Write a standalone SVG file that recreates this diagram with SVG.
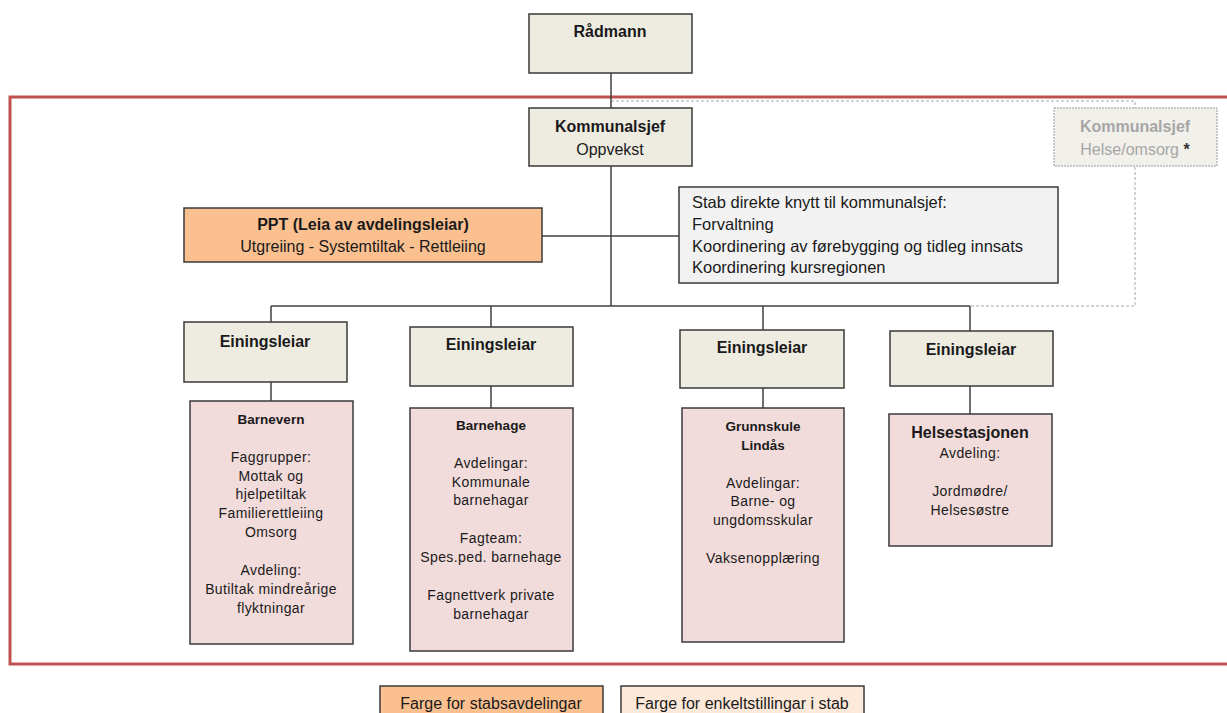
<svg xmlns="http://www.w3.org/2000/svg" width="1227" height="713" viewBox="0 0 1227 713">
<style>
text{font-family:"Liberation Sans",Arial,sans-serif;fill:#1a1a1a}
.b{font-weight:bold}
.c{text-anchor:middle}
.box{stroke:#3a3a3a;stroke-width:1.5}
.beige{fill:#eeece1}
.pink{fill:#f2dcdb}
.line{stroke:#404040;stroke-width:1.5;fill:none}
.dash{stroke:#a6a6a6;stroke-width:1;stroke-dasharray:3 2;fill:none}
.s16{font-size:16px}
.s15{font-size:15px}
.stab{font-size:16.5px}
.s14{font-size:14px;letter-spacing:0.4px}
.s13{font-size:13.5px}
</style>
<rect width="1227" height="713" fill="#ffffff"/>
<rect x="10" y="97" width="1230" height="567" fill="none" stroke="#c0504d" stroke-width="3"/>
<g id="connectors">
<polyline class="dash" points="611,101 1135,101 1135,306 970,306"/>
<line class="line" x1="611" y1="73" x2="611" y2="306" stroke="#595959"/>
<line class="line" x1="542" y1="236" x2="679" y2="236"/>
<line class="line" x1="271" y1="306" x2="970" y2="306"/>
<line class="line" x1="271" y1="306" x2="271" y2="322"/>
<line class="line" x1="491" y1="306" x2="491" y2="327"/>
<line class="line" x1="763" y1="306" x2="763" y2="330"/>
<line class="line" x1="970" y1="306" x2="970" y2="331"/>
<line class="line" x1="271" y1="382" x2="271" y2="401"/>
<line class="line" x1="491" y1="386" x2="491" y2="408"/>
<line class="line" x1="763" y1="388" x2="763" y2="408"/>
<line class="line" x1="970" y1="386" x2="970" y2="414"/>
</g>
<g id="radmann">
<rect class="box beige" x="529" y="14" width="163" height="59"/>
<text class="b c s16" x="610" y="37">Rådmann</text>
</g>
<g id="kommunalsjef-oppvekst">
<rect class="box beige" x="529" y="108" width="163" height="58"/>
<text class="b c s16" x="610" y="132">Kommunalsjef</text>
<text class="c s16" x="610" y="155">Oppvekst</text>
</g>
<g id="kommunalsjef-helse">
<rect x="1054" y="108" width="163" height="58" fill="#f1f0ea" stroke="#9a9a9a" stroke-width="1" stroke-dasharray="2 1"/>
<text class="b c s16" x="1135" y="132" style="fill:#a6a6a6">Kommunalsjef</text>
<text class="c s16" x="1135" y="155" style="fill:#a6a6a6">Helse/omsorg <tspan style="fill:#333333" font-weight="bold">*</tspan></text>
</g>
<g id="ppt">
<rect class="box" x="184" y="208" width="358" height="54" fill="#fac090"/>
<text class="b c s16" x="363" y="230">PPT (Leia av avdelingsleiar)</text>
<text class="c s16" x="363" y="252">Utgreiing - Systemtiltak - Rettleiing</text>
</g>
<g id="stab">
<rect class="box" x="679" y="187" width="379" height="96" fill="#f2f2f2"/>
<text class="stab" x="692" y="208">Stab direkte knytt til kommunalsjef:</text>
<text class="stab" x="692" y="230">Forvaltning</text>
<text class="stab" x="692" y="252">Koordinering av førebygging og tidleg innsats</text>
<text class="stab" x="692" y="273">Koordinering kursregionen</text>
</g>
<g id="einingsleiar-1">
<rect class="box beige" x="184" y="322" width="163" height="60"/>
<text class="b c s16" x="265" y="347">Einingsleiar</text>
</g>
<g id="einingsleiar-2">
<rect class="box beige" x="410" y="327" width="163" height="59"/>
<text class="b c s16" x="491" y="350">Einingsleiar</text>
</g>
<g id="einingsleiar-3">
<rect class="box beige" x="680" y="330" width="164" height="58"/>
<text class="b c s16" x="762" y="353">Einingsleiar</text>
</g>
<g id="einingsleiar-4">
<rect class="box beige" x="890" y="331" width="163" height="55"/>
<text class="b c s16" x="971" y="355">Einingsleiar</text>
</g>
<g id="barnevern">
<rect class="box pink" x="190" y="401" width="163" height="243"/>
<text class="b c s13" x="271" y="424">Barnevern</text>
<text class="c s14" x="271" y="462">Faggrupper:</text>
<text class="c s14" x="271" y="481">Mottak og</text>
<text class="c s14" x="271" y="499">hjelpetiltak</text>
<text class="c s14" x="271" y="518">Familierettleiing</text>
<text class="c s14" x="271" y="537">Omsorg</text>
<text class="c s14" x="271" y="575">Avdeling:</text>
<text class="c s14" x="271" y="594">Butiltak mindreårige</text>
<text class="c s14" x="271" y="613">flyktningar</text>
</g>
<g id="barnehage">
<rect class="box pink" x="410" y="408" width="163" height="243"/>
<text class="b c s13" x="491" y="430">Barnehage</text>
<text class="c s14" x="491" y="468">Avdelingar:</text>
<text class="c s14" x="491" y="487">Kommunale</text>
<text class="c s14" x="491" y="505">barnehagar</text>
<text class="c s14" x="491" y="543">Fagteam:</text>
<text class="c s14" x="491" y="562">Spes.ped. barnehage</text>
<text class="c s14" x="491" y="600">Fagnettverk private</text>
<text class="c s14" x="491" y="619">barnehagar</text>
</g>
<g id="grunnskule">
<rect class="box pink" x="682" y="408" width="162" height="234"/>
<text class="b c s13" x="763" y="431">Grunnskule</text>
<text class="b c s13" x="763" y="450">Lindås</text>
<text class="c s14" x="763" y="488">Avdelingar:</text>
<text class="c s14" x="763" y="506">Barne- og</text>
<text class="c s14" x="763" y="525">ungdomsskular</text>
<text class="c s14" x="763" y="563">Vaksenopplæring</text>
</g>
<g id="helsestasjonen">
<rect class="box pink" x="889" y="414" width="163" height="132"/>
<text class="b c s16" x="970" y="438">Helsestasjonen</text>
<text class="c s14" x="970" y="458">Avdeling:</text>
<text class="c s14" x="970" y="496">Jordmødre/</text>
<text class="c s14" x="970" y="515">Helsesøstre</text>
</g>
<g id="legend-stabsavdelingar">
<rect class="box" x="380" y="686" width="223" height="40" fill="#fac090"/>
<text class="c s16" x="491" y="709">Farge for stabsavdelingar</text>
</g>
<g id="legend-enkeltstillingar">
<rect class="box" x="621" y="686" width="243" height="40" fill="#fde9d9"/>
<text class="c s16" x="742" y="709">Farge for enkeltstillingar i stab</text>
</g>
</svg>
